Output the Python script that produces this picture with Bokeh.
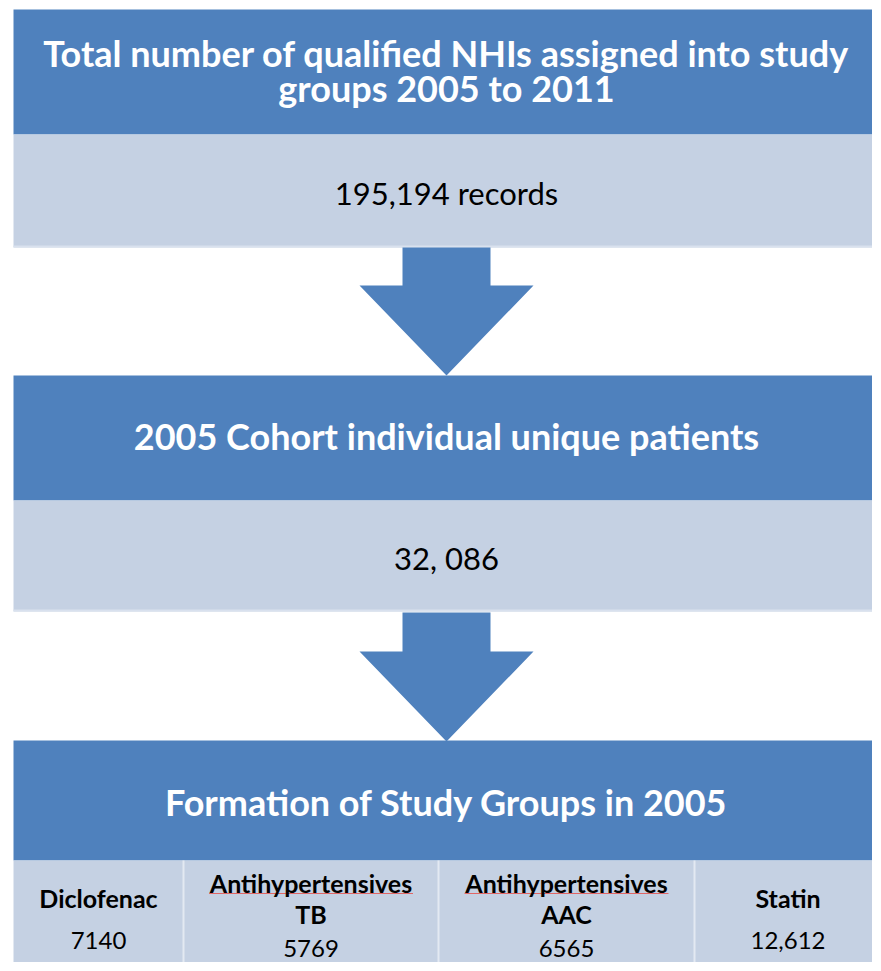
from bokeh.plotting import figure
from bokeh.models import Range1d
from bokeh.core.properties import value
from bokeh.embed import file_html
from bokeh.resources import INLINE

# ---- data (text content of the flow chart) ----
stage_titles = [
    ["Total number of qualified NHIs assigned into study", "groups 2005 to 2011"],
    ["2005 Cohort individual unique patients"],
    ["Formation of Study Groups in 2005"],
]
stage_values = ["195,194 records", "32, 086"]
group_names = [["Diclofenac"], ["Antihypertensives", "TB"], ["Antihypertensives", "AAC"], ["Statin"]]
group_counts = ["7140", "5769", "6565", "12,612"]

# ---- layout (page pixel coordinates) ----
DARK = "#4F81BD"
LIGHT = "#C5D1E3"
FONT = "Lato"
X0, X1 = 13, 881
# (dark top, dark bottom, light bottom) per stage
stage_rows = [(9, 134, 247), (375, 500, 611), (740, 860, 971)]
title_centers = [[52.5, 87.5], [435.5], [801]]
value_centers = [192, 557]
arrow_rows = [(247, 285, 375), (612, 651, 741)]
col_edges = [13, 183, 438, 694, 881]

W, H = 872, 962
p = figure(width=W, height=H, output_backend="svg", toolbar_location=None,
           x_range=Range1d(0, W), y_range=Range1d(H, 0),
           min_border=0)
p.axis.visible = False
p.grid.visible = False
p.outline_line_color = None
p.background_fill_color = "white"
p.border_fill_color = "white"

# boxes
p.quad(left=[X0] * 3, right=[X1] * 3,
       top=[r[0] for r in stage_rows], bottom=[r[1] for r in stage_rows],
       fill_color=DARK, line_color=None)
p.quad(left=[X0] * 3, right=[X1] * 3,
       top=[r[1] for r in stage_rows], bottom=[r[2] for r in stage_rows],
       fill_color=LIGHT, line_color=None)
# faint bottom edge of the light boxes
for r in stage_rows[:2]:
    p.segment(x0=[X0], x1=[X1], y0=[r[2] - 1], y1=[r[2] - 1],
              line_color="#D9E1EE", line_width=2)

# arrows
cx = 446
xs, ys = [], []
for top, neck, tip in arrow_rows:
    xs.append([402, 490, 490, 533, cx, 359, 402])
    ys.append([top, top, neck, neck, tip, neck, neck])
p.patches(xs=xs, ys=ys, fill_color=DARK, line_color=None)

# stage titles
tx, ty, tt = [], [], []
for lines, cents in zip(stage_titles, title_centers):
    for ln, c in zip(lines, cents):
        tx.append(cx); ty.append(c); tt.append(ln)
p.text(x=tx, y=ty, text=tt, text_color="white", text_font=value(FONT),
       text_font_style="bold", text_font_size="36px",
       text_align="center", text_baseline="middle")

# stage values
p.text(x=[cx] * len(stage_values), y=value_centers, text=stage_values,
       text_color="black", text_font=value(FONT), text_font_size="31px",
       text_align="center", text_baseline="middle")

# bottom row separators
r3 = stage_rows[2]
for e in col_edges[1:-1]:
    p.segment(x0=[e], x1=[e], y0=[r3[1]], y1=[r3[2]],
              line_color="#E3E9F2", line_width=2)

# group names and counts
gx, gy, gt = [], [], []
cxs, cys = [], []
for i, (names, cnt) in enumerate(zip(group_names, group_counts)):
    c = (col_edges[i] + col_edges[i + 1]) / 2
    if len(names) == 1:
        gx.append(c); gy.append(897); gt.append(names[0])
        cys.append(939.5)
    else:
        gx += [c, c]; gy += [882.5, 913.5]; gt += names
        cys.append(948)
        # spell-check underline under the long word
        p.line(x=[c - 102, c + 102], y=[893, 893], line_color="#E06666", line_width=1)
    cxs.append(c)
p.text(x=gx, y=gy, text=gt, text_color="black", text_font=value(FONT),
       text_font_style="bold", text_font_size="25px",
       text_align="center", text_baseline="middle")
p.text(x=cxs, y=cys, text=group_counts, text_color="black", text_font=value(FONT),
       text_font_size="24px", text_align="center", text_baseline="middle")

open("out.html", "w").write(file_html(p, INLINE))
